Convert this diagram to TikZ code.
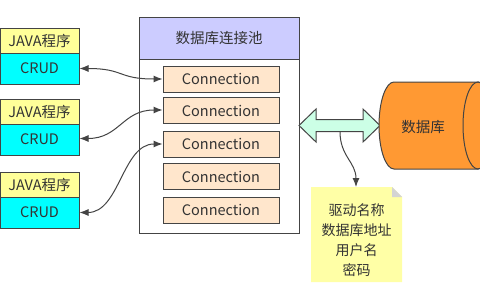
\documentclass[tikz,border=0pt]{standalone}
\usepackage{fontspec}
\setmainfont{Noto Sans CJK SC}
\usetikzlibrary{arrows.meta}
\definecolor{txt}{HTML}{333333}
\definecolor{javaY}{HTML}{FFFF99}
\definecolor{crudC}{HTML}{00FFFF}
\definecolor{hdr}{HTML}{CCCCFF}
\definecolor{conn}{HTML}{FFE6CC}
\definecolor{mint}{HTML}{CCFFE6}
\definecolor{orng}{HTML}{FF9933}
\definecolor{notey}{HTML}{FFFFA6}
\definecolor{foldg}{HTML}{D4D4D4}
\definecolor{edge}{HTML}{444444}
\begin{document}
\begin{tikzpicture}[x=1pt,y=-1pt,
  every node/.style={text=txt,font=\fontsize{14.5}{17}\selectfont,inner sep=0pt},
  box/.style={draw=edge,line width=1pt,rectangle,minimum width=79pt},
  javabox/.style={box,fill=javaY,minimum height=25pt},
  crudbox/.style={box,fill=crudC,minimum height=31pt},
  connbox/.style={draw=edge,line width=1pt,fill=conn,minimum width=116pt,minimum height=26pt},
  link/.style={draw=edge,line width=1pt,{Latex[length=9pt,width=7pt]}-{Latex[length=9pt,width=7pt]}}
]
\useasboundingbox (0,0) rectangle (480,300);
\fill[white] (0,0) rectangle (480,300);
% left programs
\node[javabox] (j1) at (39.5,40.5) {JAVA程序};
\node[crudbox] (c1) at (39.5,68.5) {CRUD};
\node[javabox] (j2) at (39.5,111.5) {JAVA程序};
\node[crudbox] (c2) at (39.5,139.5) {CRUD};
\node[javabox] (j3) at (39.5,184.5) {JAVA程序};
\node[crudbox] (c3) at (39.5,212.5) {CRUD};
% pool
\node[draw=edge,line width=1pt,fill=white,minimum width=160pt,minimum height=174pt] (pool) at (219,146) {};
\node[draw=edge,line width=1pt,fill=hdr,minimum width=160pt,minimum height=42pt] (hdr) at (219,38) {数据库连接池};
\node[connbox] (k1) at (221,79) {Connection};
\node[connbox] (k2) at (221,110.5) {Connection};
\node[connbox] (k3) at (221,144) {Connection};
\node[connbox] (k4) at (221,176.5) {Connection};
\node[connbox] (k5) at (221,210) {Connection};
% links
\draw[link] (c1.east) .. controls +(45,0) and +(-45,0) .. (k1.west);
\draw[link] ([yshift=1pt]c2.east) .. controls +(40,0) and +(-40,0) .. ([yshift=0.5pt]k2.west);
\draw[link] (c3.east) .. controls +(40,0) and +(-40,0) .. (k3.west);
% double arrow
\filldraw[draw=edge,line width=1pt,fill=mint] (299,125.5) -- (316,109) -- (316,119.5) -- (363,119.5) -- (363,109) -- (380,125.5) -- (363,142) -- (363,131.5) -- (316,131.5) -- (316,142) -- cycle;
\coordinate (dbarr) at (340,131.5);
% database cylinder
\filldraw[draw=edge,line width=1pt,fill=orng] (394,82) -- (478,82) arc[start angle=-90,end angle=90,x radius=15,y radius=43.5] -- (394,169) arc[start angle=90,end angle=270,x radius=15,y radius=43.5] -- cycle;
\draw[edge,line width=1pt] (478,125.5) ellipse[x radius=15,y radius=43.5];
\node (db) at (423,127) {数据库};
% note
\fill[notey] (311,187) -- (392,187) -- (402,197) -- (402,282) -- (311,282) -- cycle;
\fill[foldg] (392,187) -- (402,197) -- (392,197) -- cycle;
\node[align=center,font=\fontsize{14}{20}\selectfont] (note) at (356.5,240) {驱动名称\\数据库地址\\用户名\\密码};
\coordinate (notetop) at (356,187);
\draw[draw=edge,line width=1pt,-{Latex[length=9pt,width=7pt]}] (dbarr) .. controls +(0,25) and +(0,-25) .. (notetop);
\end{tikzpicture}
\end{document}
